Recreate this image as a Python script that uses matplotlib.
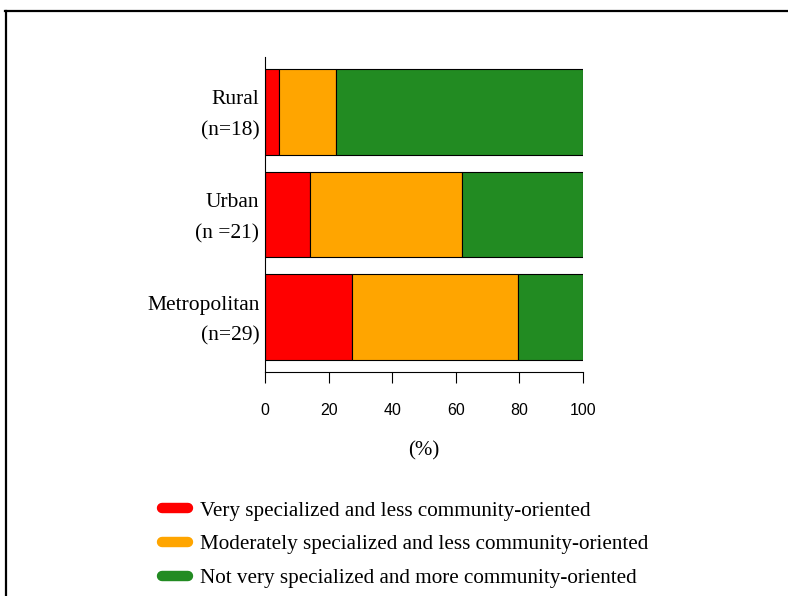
import matplotlib
matplotlib.use("Agg")
import matplotlib.pyplot as plt
from matplotlib.lines import Line2D
from matplotlib.transforms import ScaledTranslation

categories = ["Metropolitan\n(n=29)", "Urban\n(n =21)", "Rural\n(n=18)"]
very_spec = [27.4, 14.3, 4.4]
moderate = [52.1, 47.5, 17.8]
not_very = [20.5, 38.2, 77.8]
series_labels = ["Very specialized and less community-oriented",
                 "Moderately specialized and less community-oriented",
                 "Not very specialized and more community-oriented"]
colors = ["#FF0000", "#FFA500", "#228B22"]
xticks = [0, 20, 40, 60, 80, 100]

W, H = 788, 596
fig = plt.figure(figsize=(W / 100, H / 100), dpi=100)
ax = fig.add_axes([265 / W, (H - 372) / H, 318 / W, 315 / H])

ypos = [0.7, 1.9, 3.1]
left = [0, 0, 0]
for vals, col in zip([very_spec, moderate, not_very], colors):
    ax.barh(ypos, vals, left=left, height=1.0, color=col, edgecolor="black", linewidth=0.8)
    left = [l + v for l, v in zip(left, vals)]

ax.set_xlim(0, 100)
ax.set_ylim(0.06, 3.74)
ax.set_xticks(xticks)
ax.set_xticklabels([str(t) for t in xticks], family="Liberation Sans", fontsize=11.5)
ax.tick_params(axis="x", length=8, width=0.8, pad=14)
ax.set_yticks(ypos)
ax.set_yticklabels(categories, family="Liberation Serif", fontsize=15.5, linespacing=1.85)
ax.tick_params(axis="y", length=0, pad=4)
shift = ScaledTranslation(0, -3.5 / 100, fig.dpi_scale_trans)
for lab in ax.get_yticklabels():
    lab.set_multialignment("right")
    lab.set_verticalalignment("center")
    lab.set_transform(lab.get_transform() + shift)
ax.spines["top"].set_visible(False)
ax.spines["right"].set_visible(False)
ax.spines["left"].set_linewidth(0.8)
ax.spines["bottom"].set_linewidth(0.8)
ax.set_xlabel("(%)", family="Liberation Serif", fontsize=15, labelpad=17)

handles = [Line2D([0], [0], color=c, linewidth=7.5, solid_capstyle="round") for c in colors]
fig.legend(handles, series_labels, loc="upper left", bbox_to_anchor=(162 / W, (H - 501) / H),
           frameon=False, prop={"family": "Liberation Serif", "size": 15.2},
           handlelength=1.25, handletextpad=0.55, labelspacing=0.66, borderpad=0, borderaxespad=0)

# outer frame (top and left edges)
fig.add_artist(Line2D([5 / W, 1], [1 - 11 / H, 1 - 11 / H], transform=fig.transFigure, color="black", linewidth=1.6))
fig.add_artist(Line2D([6 / W, 6 / W], [0, 1 - 11 / H], transform=fig.transFigure, color="black", linewidth=1.6))

fig.savefig("out.png", dpi=100)
